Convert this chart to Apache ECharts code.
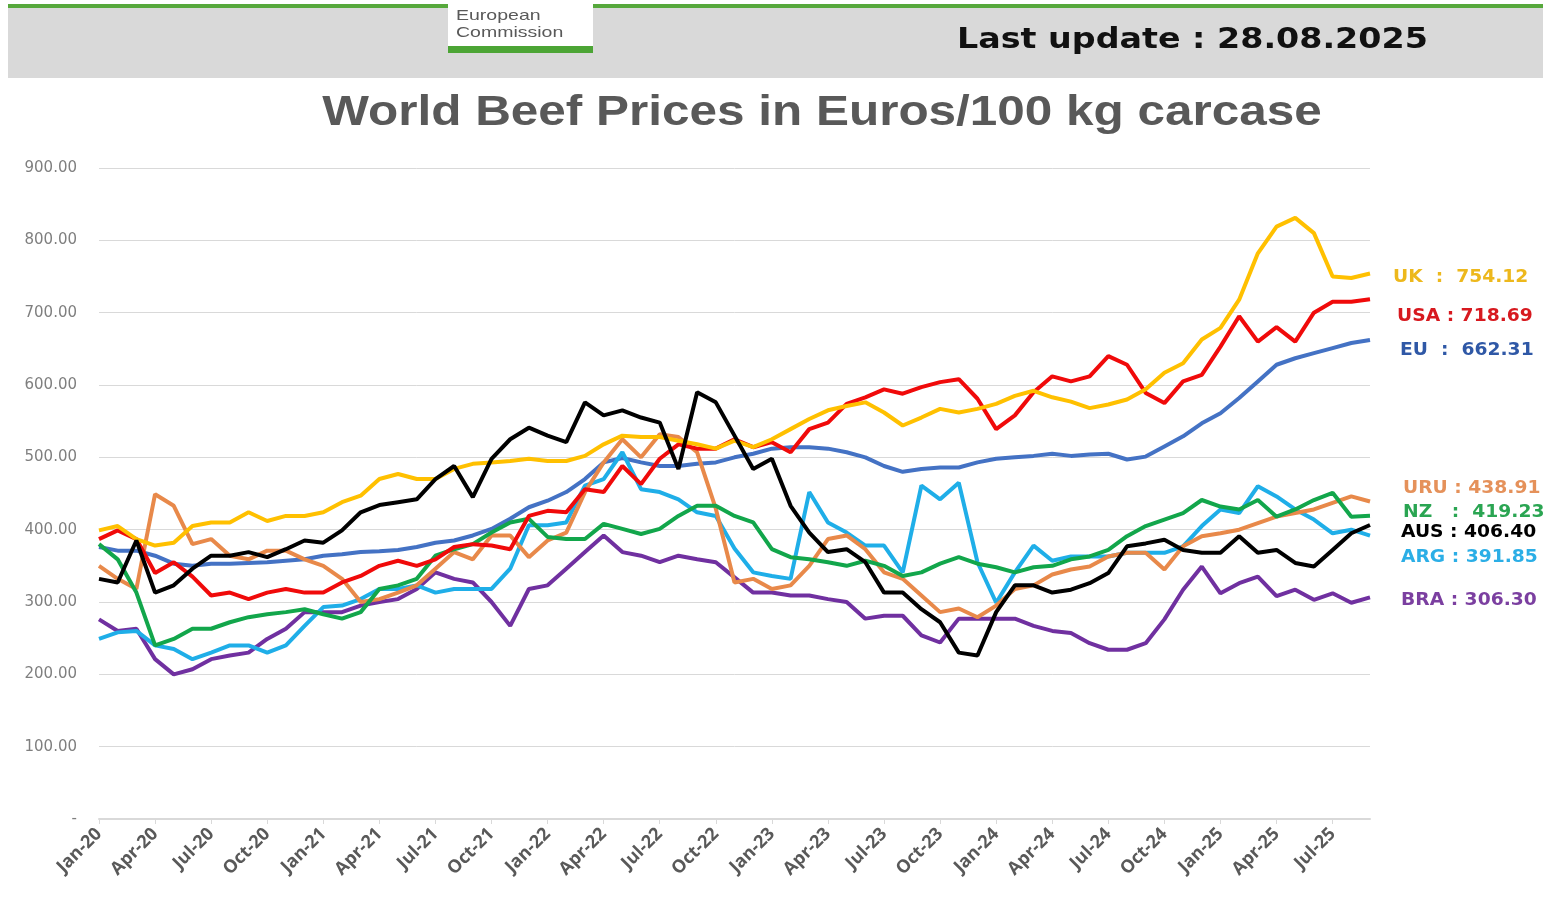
<!DOCTYPE html>
<html>
<head>
<meta charset="utf-8">
<title>World Beef Prices</title>
<script src="https://cdn.jsdelivr.net/npm/echarts@6/dist/echarts.min.js"></script>
<style>
  html, body { margin: 0; padding: 0; background: #fff; }
  #chart { width: 1543px; height: 897px; }
</style>
</head>
<body>
<div id="chart"></div>
<script>
// monthly readings, Jan-20 .. Aug-25, last point = latest update (28.08.2025)
const categories = [
  'Jan-20','Feb-20','Mar-20','Apr-20','May-20','Jun-20','Jul-20','Aug-20','Sep-20','Oct-20','Nov-20','Dec-20',
  'Jan-21','Feb-21','Mar-21','Apr-21','May-21','Jun-21','Jul-21','Aug-21','Sep-21','Oct-21','Nov-21','Dec-21',
  'Jan-22','Feb-22','Mar-22','Apr-22','May-22','Jun-22','Jul-22','Aug-22','Sep-22','Oct-22','Nov-22','Dec-22',
  'Jan-23','Feb-23','Mar-23','Apr-23','May-23','Jun-23','Jul-23','Aug-23','Sep-23','Oct-23','Nov-23','Dec-23',
  'Jan-24','Feb-24','Mar-24','Apr-24','May-24','Jun-24','Jul-24','Aug-24','Sep-24','Oct-24','Nov-24','Dec-24',
  'Jan-25','Feb-25','Mar-25','Apr-25','May-25','Jun-25','Jul-25','Aug-25','28-Aug-25'
]
const yTicks = [0, 100, 200, 300, 400, 500, 600, 700, 800, 900]

const uk = [399,405,387,378,382,405,410,410,424,412,419,419,424,438,447,470,477,470,
  470,484,491,493,495,498,495,495,502,518,530,528,528,523,518,512,523,
  514,525,539,553,565,571,576,562,544,555,567,562,567,574,585,592,583,
  577,568,573,580,594,617,630,663,679,718,782,819,831,810,750,748,754.12]
const usa = [387,399,387,340,355,335,309,313,304,313,318,313,313,327,336,350,357,350,
  359,376,380,378,373,419,426,424,456,452,488,463,498,518,512,512,525,
  514,521,507,539,548,574,583,594,588,597,604,608,581,539,558,590,612,
  605,612,640,628,589,575,605,614,653,695,660,680,660,700,715,715,718.69]
const eu = [376,371,371,364,353,350,353,353,354,355,357,359,364,366,369,370,372,376,
  382,385,392,401,415,431,440,452,470,493,499,493,488,488,491,493,500,
  505,512,514,514,512,507,500,488,480,484,486,486,493,498,500,502,505,
  502,504,505,497,501,515,529,547,561,582,605,628,637,644,651,658,662.31]
const uru = [350,332,318,449,433,380,387,364,359,371,371,359,350,332,300,304,313,323,
  346,369,359,392,392,362,385,396,452,493,525,500,532,528,507,429,327,
  332,318,323,350,387,392,373,341,332,309,286,291,279,295,318,323,338,
  345,349,363,368,368,345,377,391,395,400,409,418,423,428,437,446,438.91]
const nz = [380,359,313,240,249,263,263,272,279,283,286,290,283,277,286,318,323,332,
  364,373,380,396,410,415,390,387,387,408,401,394,401,419,433,433,419,
  410,373,362,359,355,350,357,350,336,341,353,362,353,348,341,348,350,
  359,363,372,391,405,414,423,441,432,428,441,418,428,441,451,418,419.23]
const aus = [332,327,385,313,323,346,364,364,369,362,373,385,382,399,424,434,438,442,
  470,488,445,498,525,541,530,521,576,558,565,555,548,484,590,576,530,
  484,498,433,396,369,373,355,313,313,290,272,230,226,286,323,323,313,
  317,326,340,377,381,386,372,368,368,391,368,372,354,349,372,395,406.40]
const arg = [249,258,260,240,235,221,230,240,240,230,240,267,293,295,304,318,318,323,
  313,318,318,318,346,406,406,410,461,470,507,456,452,442,424,419,374,
  341,336,332,452,410,396,378,378,341,461,442,465,355,299,341,378,357,
  363,363,363,368,368,368,377,405,428,423,460,446,428,414,395,400,391.85]
const bra = [276,260,263,221,200,207,221,226,230,249,263,286,286,286,295,300,304,318,
  341,332,327,300,267,318,323,346,369,392,369,364,355,364,359,355,334,
  313,313,309,309,304,300,277,281,281,254,244,277,277,277,277,267,260,
  257,243,234,234,243,276,317,349,312,326,335,308,317,303,312,299,306.30]

const seriesList = [
  { name: 'EU', data: eu, color: '#4472C4', label: '#2F58A6', lx: 1400, ly: 351, text: 'EU  :  ' },
  { name: 'BRA', data: bra, color: '#7030A0', label: '#7B3FA0', lx: 1401, ly: 601, text: 'BRA : ' },
  { name: 'ARG', data: arg, color: '#1FAEE8', label: '#2BAEE6', lx: 1401, ly: 558, text: 'ARG : ' },
  { name: 'URU', data: uru, color: '#E8894A', label: '#E5915A', lx: 1403, ly: 489, text: 'URU : ' },
  { name: 'NZ', data: nz, color: '#12A64B', label: '#2AA552', lx: 1403, ly: 513, text: 'NZ   :  ' },
  { name: 'USA', data: usa, color: '#F00A0A', label: '#D7191F', lx: 1397, ly: 317, text: 'USA : ' },
  { name: 'UK', data: uk, color: '#FFC000', label: '#EDB81C', lx: 1393, ly: 278, text: 'UK  :  ' },
  { name: 'AUS', data: aus, color: '#000000', label: '#000000', lx: 1401, ly: 533, text: 'AUS : ' }
]

const chart = echarts.init(document.getElementById('chart'))

const graphics = [
  { type: 'rect', shape: { x: 8, y: 8, width: 1535, height: 70 }, style: { fill: '#D9D9D9' }, z: 1 },
  { type: 'rect', shape: { x: 8, y: 4, width: 1535, height: 4 }, style: { fill: '#56A83C' }, z: 2 },
  { type: 'rect', shape: { x: 448, y: 3, width: 145, height: 50 }, style: { fill: '#ffffff' }, z: 3 },
  { type: 'rect', shape: { x: 448, y: 46, width: 145, height: 7 }, style: { fill: '#4CA535' }, z: 4 },
  { type: 'text', x: 456, y: 16, scaleX: 1.3, z: 4, style: { text: 'European', fill: '#595959', font: '15px "Liberation Sans"', verticalAlign: 'middle' } },
  { type: 'text', x: 456, y: 33, scaleX: 1.3, z: 4, style: { text: 'Commission', fill: '#595959', font: '15px "Liberation Sans"', verticalAlign: 'middle' } },
  { type: 'text', x: 957, y: 41, scaleX: 1.19, z: 4, style: { text: 'Last update : 28.08.2025', fill: '#111', font: 'bold 28px "DejaVu Sans"', verticalAlign: 'middle' } },
  { type: 'text', x: 822, y: 113, scaleX: 1.15, z: 4, style: { text: 'World Beef Prices in Euros/100 kg carcase', fill: '#595959', font: 'bold 43px "Liberation Sans"', align: 'center', verticalAlign: 'middle' } }
]

seriesList.forEach(s => {
  const last = s.data[s.data.length - 1]
  graphics.push({
    type: 'text', x: s.lx, y: s.ly, scaleX: 1.1, z: 4,
    style: { text: s.text + last.toFixed(2), fill: s.label, font: 'bold 17px "DejaVu Sans"', verticalAlign: 'middle' }
  })
})

chart.setOption({
  backgroundColor: '#ffffff',
  animation: false,
  graphic: graphics,
  grid: { left: 99, right: 173, top: 168, bottom: 78, containLabel: false },
  xAxis: {
    type: 'category',
    data: categories,
    boundaryGap: false,
    axisLine: { lineStyle: { color: '#D9D9D9', width: 2 } },
    axisTick: { show: true, interval: 2, length: 5, lineStyle: { color: '#D9D9D9' } },
    axisLabel: {
      interval: 2,
      rotate: 45,
      margin: 12,
      color: '#595959',
      fontFamily: 'Open Sans',
      fontWeight: 'bold',
      fontSize: 18
    },
    splitLine: { show: false }
  },
  yAxis: {
    type: 'value',
    min: yTicks[0],
    max: yTicks[yTicks.length - 1],
    interval: 100,
    axisLine: { show: false },
    axisTick: { show: false },
    axisLabel: {
      margin: 22,
      color: '#7F7F7F',
      fontFamily: 'DejaVu Sans',
      fontSize: 15,
      formatter: v => v === 0 ? '-' : v.toFixed(2)
    },
    splitLine: { lineStyle: { color: '#D9D9D9', width: 1 } }
  },
  series: seriesList.map(s => ({
    name: s.name,
    type: 'line',
    data: s.data,
    showSymbol: false,
    symbol: 'none',
    lineStyle: { color: s.color, width: 4 },
    itemStyle: { color: s.color }
  }))
})
</script>
</body>
</html>
